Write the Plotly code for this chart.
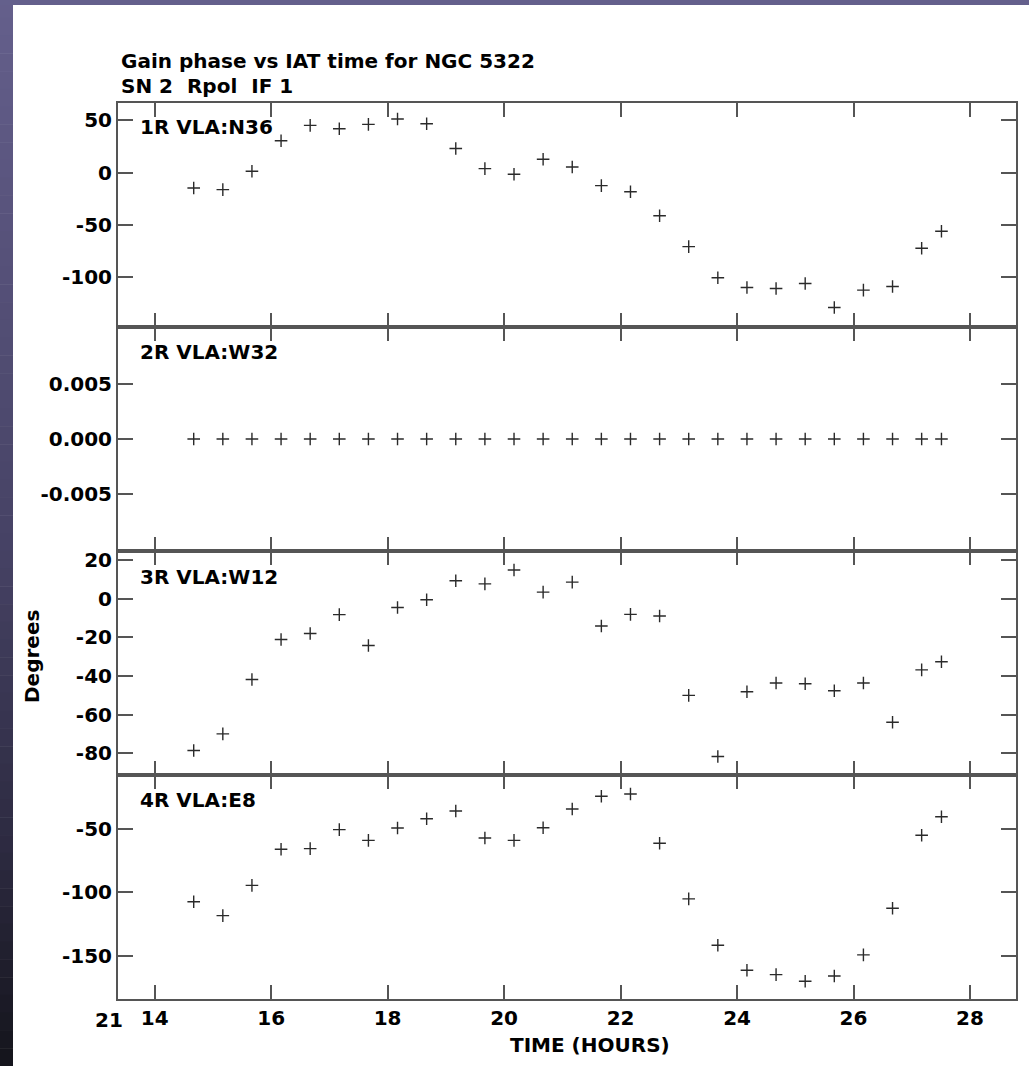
import plotly.graph_objects as go
from plotly.subplots import make_subplots

# ---------------- data ----------------
time_hours = [14.67, 15.17, 15.67, 16.17, 16.67, 17.17, 17.67, 18.17, 18.67,
              19.17, 19.67, 20.17, 20.67, 21.17, 21.67, 22.17, 22.67, 23.17,
              23.67, 24.17, 24.67, 25.17, 25.67, 26.17, 26.67, 27.17, 27.51]

phase_n36 = [-14.8, -16.3, 1.3, 30.4, 45.2, 42.0, 46.1, 51.3, 46.8,
             23.0, 3.8, -1.6, 12.8, 5.4, -12.5, -18.3, -41.3, -70.9,
             -100.7, -110.0, -111.0, -106.1, -129.2, -112.5, -109.0, -72.4, -56.1]

phase_w32 = [0.0, 0.0, 0.0, 0.0, 0.0, 0.0, 0.0, 0.0, 0.0,
             0.0, 0.0, 0.0, 0.0, 0.0, 0.0, 0.0, 0.0, 0.0,
             0.0, 0.0, 0.0, 0.0, 0.0, 0.0, 0.0, 0.0, 0.0]

phase_w12 = [-78.5, -69.9, -41.8, -21.1, -18.0, -8.2, -24.2, -4.5, -0.5,
             9.3, 7.7, 14.9, 3.4, 8.6, -14.1, -8.1, -8.9, -50.0,
             -81.6, -48.1, -43.6, -44.0, -47.6, -43.6, -63.9, -36.8, -32.6]

phase_e8 = [-107.4, -118.4, -94.5, -66.0, -65.5, -50.5, -59.0, -49.2, -41.9,
            -35.8, -57.1, -59.0, -49.0, -34.2, -24.2, -22.4, -61.3, -105.2,
            -141.8, -161.5, -165.0, -170.2, -166.0, -149.4, -112.6, -55.0, -40.3]

panel_labels = ["1R VLA:N36", "2R VLA:W32", "3R VLA:W12", "4R VLA:E8"]
series = [phase_n36, phase_w32, phase_w12, phase_e8]

y_ranges = [[-147.8, 66.6], [-0.0101, 0.0101], [-91.2, 24.7], [-184.2, -7.4]]
y_tickvals = [[50, 0, -50, -100], [0.005, 0.0, -0.005],
              [20, 0, -20, -40, -60, -80], [-50, -100, -150]]
y_ticktext = [["50", "0", "-50", "-100"], ["0.005", "0.000", "-0.005"],
              ["20", "0", "-20", "-40", "-60", "-80"], ["-50", "-100", "-150"]]

x_range = [13.37, 28.79]
x_tickvals = [14, 16, 18, 20, 22, 24, 26, 28]
x_ticktext = ["14", "16", "18", "20", "22", "24", "26", "28"]

title_line1 = "Gain phase vs IAT time for NGC 5322"
title_line2 = "SN 2  Rpol  IF 1"
x_title = "TIME (HOURS)"
y_title = "Degrees"
day_label = "21"

# ---------------- layout geometry ----------------
W, H = 1029, 1066
L, R, T, B = 118, 1016, 103, 999
PW, PH = R - L, B - T


def px(xp):
    return (xp - L) / PW


def py(yp):
    return (B - yp) / PH


FONT = "DejaVu Sans, Liberation Sans, Arial"
AX = "#555555"
FS = 20

fig = make_subplots(rows=4, cols=1, shared_xaxes=True, vertical_spacing=0)

for i, ys in enumerate(series):
    fig.add_trace(go.Scatter(
        x=time_hours, y=ys, mode="markers",
        marker=dict(symbol="cross-thin", size=9,
                    line=dict(width=1.4, color="#2a2a2a")),
        showlegend=False, cliponaxis=False), row=i + 1, col=1)

    fig.update_yaxes(range=y_ranges[i], tickvals=y_tickvals[i], ticktext=y_ticktext[i],
                     ticks="inside", ticklen=15, tickwidth=2, tickcolor=AX,
                     showline=True, linewidth=2, linecolor=AX, mirror="ticks",
                     showgrid=False, zeroline=False,
                     tickfont=dict(family=FONT, size=FS, color="black", weight="bold"),
                     row=i + 1, col=1)
    fig.update_xaxes(range=x_range, tickvals=x_tickvals, ticktext=x_ticktext,
                     ticks="inside", ticklen=14, tickwidth=2, tickcolor=AX,
                     showline=True, linewidth=2, linecolor=AX, mirror="ticks",
                     showgrid=False, zeroline=False,
                     showticklabels=(i == 3),
                     tickfont=dict(family=FONT, size=FS, color="black", weight="bold"),
                     row=i + 1, col=1)

# panel labels
label_centers = [127, 352, 577, 800]
for lab, yc in zip(panel_labels, label_centers):
    fig.add_annotation(text=lab, xref="paper", yref="paper",
                       x=px(138), y=py(yc), xanchor="left", yanchor="middle",
                       showarrow=False,
                       font=dict(family=FONT, size=FS, color="black", weight="bold"))

# titles
fig.add_annotation(text=title_line1, xref="paper", yref="paper", x=px(119), y=py(61),
                   xanchor="left", yanchor="middle", showarrow=False,
                   font=dict(family=FONT, size=FS, color="black", weight="bold"))
fig.add_annotation(text=title_line2, xref="paper", yref="paper", x=px(119), y=py(86),
                   xanchor="left", yanchor="middle", showarrow=False,
                   font=dict(family=FONT, size=FS, color="black", weight="bold"))
fig.add_annotation(text=x_title, xref="paper", yref="paper", x=px(590), y=py(1045),
                   xanchor="center", yanchor="middle", showarrow=False,
                   font=dict(family=FONT, size=FS, color="black", weight="bold"))
fig.add_annotation(text=y_title, xref="paper", yref="paper", x=px(32), y=py(657),
                   xanchor="center", yanchor="middle", showarrow=False, textangle=-90,
                   font=dict(family=FONT, size=FS, color="black", weight="bold"))
fig.add_annotation(text=day_label, xref="paper", yref="paper", x=px(109), y=py(1020),
                   xanchor="center", yanchor="middle", showarrow=False,
                   font=dict(family=FONT, size=FS, color="black", weight="bold"))

# decorative purple/dark frame (top strip + left gradient strip)
shapes = []
top_c = (100, 96, 140)
stops = [(0, (100, 96, 140)), (300, (84, 79, 118)), (550, (70, 66, 100)),
         (850, (44, 42, 64)), (1066, (20, 20, 28))]


def col_at(yp):
    for (y0, c0), (y1, c1) in zip(stops[:-1], stops[1:]):
        if y0 <= yp <= y1:
            t = (yp - y0) / (y1 - y0)
            return tuple(int(round(a + (b - a) * t)) for a, b in zip(c0, c1))
    return stops[-1][1]


nb = 60
for k in range(nb):
    y0 = k * H / nb
    y1 = (k + 1) * H / nb
    c = col_at((y0 + y1) / 2)
    shapes.append(dict(type="rect", xref="paper", yref="paper",
                       x0=px(0), x1=px(13), y0=py(y1 + 0.5), y1=py(y0),
                       fillcolor="rgb(%d,%d,%d)" % c, line=dict(width=0), layer="below"))
shapes.append(dict(type="rect", xref="paper", yref="paper",
                   x0=px(0), x1=px(W), y0=py(5), y1=py(0),
                   fillcolor="rgb(%d,%d,%d)" % top_c, line=dict(width=0), layer="below"))

fig.update_layout(width=W, height=H,
                  margin=dict(l=L, r=W - R, t=T, b=H - B),
                  paper_bgcolor="white", plot_bgcolor="white",
                  font=dict(family=FONT, size=FS, color="black"),
                  shapes=shapes, showlegend=False)

fig.write_html("out.html")
